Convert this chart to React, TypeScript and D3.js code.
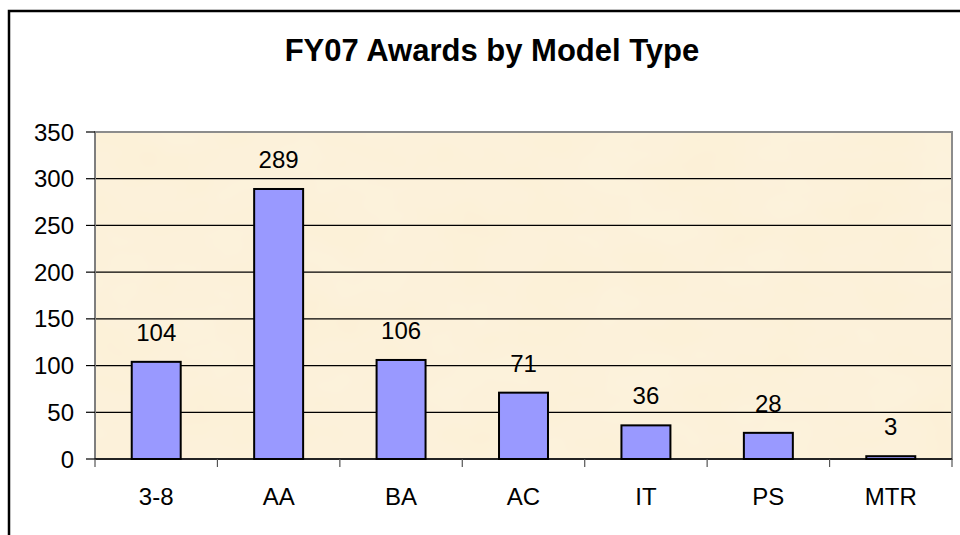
import React from 'react';
import * as d3 from 'd3';

const categories = ['3-8', 'AA', 'BA', 'AC', 'IT', 'PS', 'MTR'];
const awards = [104, 289, 106, 71, 36, 28, 3];
const yTicks = [0, 50, 100, 150, 200, 250, 300, 350];
const title = 'FY07 Awards by Model Type';

const W = 960;
const H = 535;
const plot = { left: 95, right: 952, top: 132, bottom: 459 };
const font = 'Arial, "Liberation Sans", Helvetica, sans-serif';

export default function App() {
  const x = d3.scaleBand<string>()
    .domain(categories)
    .range([plot.left, plot.right])
    .paddingInner(0.6)
    .paddingOuter(0.3);

  const band = (plot.right - plot.left) / categories.length;

  const y = d3.scaleLinear()
    .domain([0, 350])
    .range([plot.bottom, plot.top]);

  return (
    <svg width={W} height={H} style={{ position: 'absolute', left: 0, top: 0, background: '#fff' }}>
      <defs>
        {/* parchment-like texture for the plot area */}
        <filter id="paper" x="0" y="0" width="100%" height="100%">
          <feTurbulence type="fractalNoise" baseFrequency="0.012 0.02" numOctaves={3} seed={4} result="noise" />
          <feColorMatrix in="noise" type="matrix"
            values="0 0 0 0 0.99  0 0 0 0 0.93  0 0 0 0 0.82  0 0 0 0.35 0" result="tint" />
          <feComposite in="tint" in2="SourceGraphic" operator="over" />
        </filter>
      </defs>

      {/* outer chart frame, cut off on right and bottom */}
      <rect x={9} y={11} width={W + 10} height={H + 10} fill="#fff" stroke="#000" strokeWidth={2.5} />

      <text x={492} y={61} textAnchor="middle" fontFamily={font} fontWeight="bold" fontSize={31} fill="#000">
        {title}
      </text>

      {/* plot background */}
      <rect x={plot.left} y={plot.top} width={plot.right - plot.left} height={plot.bottom - plot.top}
        fill="#fcf0d6" filter="url(#paper)" />

      {/* gridlines */}
      {yTicks.slice(1, -1).map(t => (
        <line key={'g' + t} x1={plot.left} x2={plot.right} y1={y(t)} y2={y(t)} stroke="#000" strokeWidth={1.2} />
      ))}

      <rect x={plot.left} y={plot.top} width={plot.right - plot.left} height={plot.bottom - plot.top}
        fill="none" stroke="#8c8c8c" strokeWidth={2} />

      {/* bars */}
      {categories.map((c, i) => (
        <rect key={c} x={x(c)} y={y(awards[i])} width={x.bandwidth()} height={plot.bottom - y(awards[i])}
          fill="#9999ff" stroke="#000" strokeWidth={2} />
      ))}

      {/* value labels */}
      {categories.map((c, i) => (
        <text key={'v' + c} x={(x(c) ?? 0) + x.bandwidth() / 2} y={y(awards[i]) - 21}
          textAnchor="middle" fontFamily={font} fontSize={24} fill="#000">
          {awards[i]}
        </text>
      ))}

      {/* y axis */}
      <line x1={plot.left} x2={plot.left} y1={plot.top} y2={plot.bottom} stroke="#7a7a7a" strokeWidth={1.5} />
      {yTicks.map(t => (
        <g key={'y' + t}>
          <line x1={plot.left - 9} x2={plot.left} y1={y(t)} y2={y(t)} stroke="#000" strokeWidth={1.2} />
          <text x={74} y={y(t)} dy="0.36em" textAnchor="end" fontFamily={font} fontSize={24} fill="#000">{t}</text>
        </g>
      ))}

      {/* x axis */}
      <line x1={plot.left} x2={plot.right} y1={plot.bottom} y2={plot.bottom} stroke="#000" strokeWidth={1.5} />
      {d3.range(categories.length + 1).map(i => (
        <line key={'xt' + i} x1={plot.left + i * band} x2={plot.left + i * band}
          y1={plot.bottom} y2={plot.bottom + 8} stroke="#555" strokeWidth={1.2} />
      ))}
      {categories.map(c => (
        <text key={'x' + c} x={(x(c) ?? 0) + x.bandwidth() / 2} y={505}
          textAnchor="middle" fontFamily={font} fontSize={24} fill="#000">{c}</text>
      ))}
    </svg>
  );
}
